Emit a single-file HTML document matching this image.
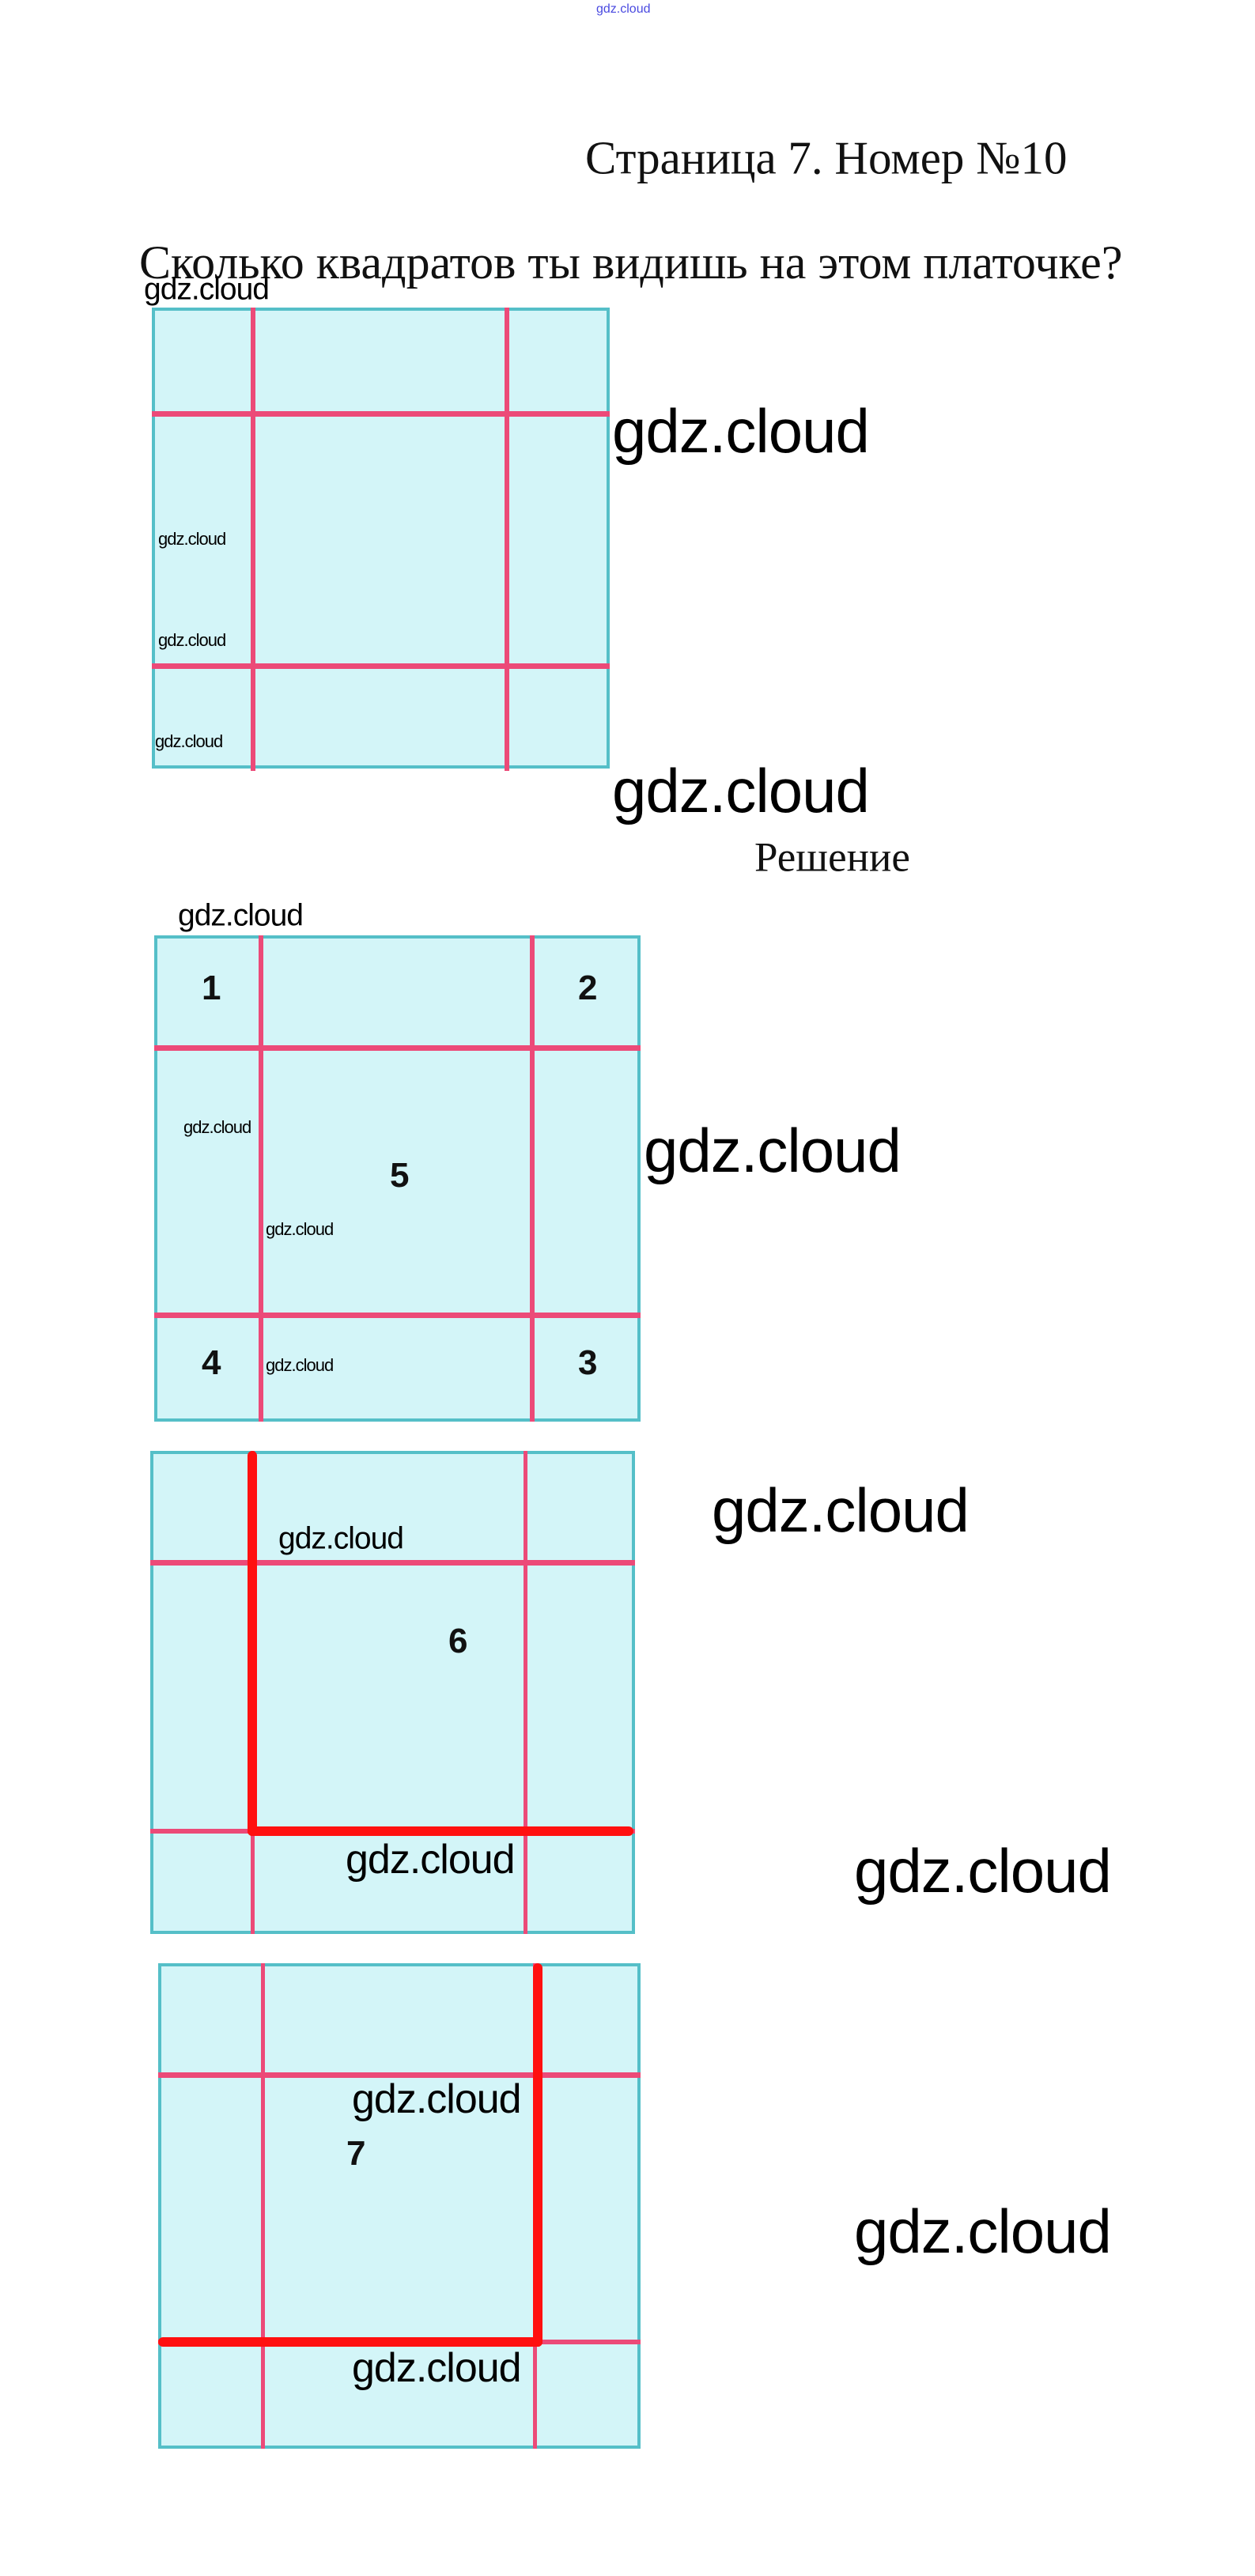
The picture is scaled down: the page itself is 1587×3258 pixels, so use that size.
<!DOCTYPE html>
<html><head><meta charset="utf-8"><style>
body{margin:0;width:1587px;height:3258px;background:#fff;position:relative;overflow:hidden}
.t{position:absolute;line-height:1;white-space:nowrap;transform:translateY(-50%)}
.serif{font-family:"Liberation Serif",serif;color:#111}
.g{font-family:"Liberation Sans",sans-serif;color:#000;letter-spacing:-1px}
.box{position:absolute;background:#d3f5f8;border:4px solid #55bfc8;box-sizing:border-box}
.r{position:absolute;background:#ec4a78}
.R{position:absolute;background:#ff1010;border-radius:6px}
.n{font-family:"Liberation Sans",sans-serif;font-weight:bold;font-size:44px;color:#111}
</style></head><body>
<div class="t" style="left:754px;top:12px;font-size:16px;color:#4a4ae0;font-family:'Liberation Sans',sans-serif">gdz.cloud</div>
<div class="t serif" style="left:740px;top:200px;font-size:59px">Страница 7. Номер №10</div>
<div class="t serif" style="left:176px;top:332px;font-size:60px">Сколько квадратов ты видишь на этом платочке?</div>
<div class="t g" style="left:182px;top:366px;font-size:39px">gdz.cloud</div>

<div class="box" style="left:192px;top:389px;width:579px;height:583px"></div>
<div class="r" style="left:317px;top:389px;width:6px;height:586px"></div>
<div class="r" style="left:638px;top:389px;width:6px;height:586px"></div>
<div class="r" style="left:192px;top:520px;width:579px;height:7px"></div>
<div class="r" style="left:192px;top:839px;width:579px;height:7px"></div>
<div class="t g" style="left:200px;top:682px;font-size:22px">gdz.cloud</div>
<div class="t g" style="left:200px;top:810px;font-size:22px">gdz.cloud</div>
<div class="t g" style="left:196px;top:938px;font-size:22px">gdz.cloud</div>
<div class="t g" style="left:774px;top:545px;font-size:78px">gdz.cloud</div>
<div class="t g" style="left:774px;top:1000px;font-size:78px">gdz.cloud</div>
<div class="t serif" style="left:954px;top:1085px;font-size:53px">Решение</div>

<div class="t g" style="left:225px;top:1158px;font-size:39px">gdz.cloud</div>
<div class="box" style="left:195px;top:1183px;width:615px;height:615px"></div>
<div class="r" style="left:327px;top:1183px;width:6px;height:615px"></div>
<div class="r" style="left:670px;top:1183px;width:6px;height:615px"></div>
<div class="r" style="left:195px;top:1322px;width:615px;height:7px"></div>
<div class="r" style="left:195px;top:1660px;width:615px;height:7px"></div>
<div class="t n" style="left:255px;top:1250px">1</div>
<div class="t n" style="left:731px;top:1250px">2</div>
<div class="t n" style="left:493px;top:1487px">5</div>
<div class="t n" style="left:255px;top:1724px">4</div>
<div class="t n" style="left:731px;top:1724px">3</div>
<div class="t g" style="left:232px;top:1426px;font-size:22px">gdz.cloud</div>
<div class="t g" style="left:336px;top:1555px;font-size:22px">gdz.cloud</div>
<div class="t g" style="left:336px;top:1727px;font-size:22px">gdz.cloud</div>
<div class="t g" style="left:814px;top:1455px;font-size:78px">gdz.cloud</div>

<div class="box" style="left:190px;top:1835px;width:613px;height:611px"></div>
<div class="r" style="left:317px;top:1835px;width:5px;height:611px"></div>
<div class="r" style="left:662px;top:1835px;width:5px;height:611px"></div>
<div class="r" style="left:190px;top:1973px;width:613px;height:7px"></div>
<div class="r" style="left:190px;top:2313px;width:613px;height:6px"></div>
<div class="R" style="left:313px;top:1835px;width:12px;height:487px"></div>
<div class="R" style="left:313px;top:2310px;width:488px;height:12px"></div>
<div class="t n" style="left:567px;top:2076px">6</div>
<div class="t g" style="left:352px;top:1946px;font-size:39px">gdz.cloud</div>
<div class="t g" style="left:437px;top:2352px;font-size:52px">gdz.cloud</div>
<div class="t g" style="left:900px;top:1910px;font-size:78px">gdz.cloud</div>
<div class="t g" style="left:1080px;top:2366px;font-size:78px">gdz.cloud</div>

<div class="box" style="left:200px;top:2483px;width:610px;height:614px"></div>
<div class="r" style="left:330px;top:2483px;width:5px;height:614px"></div>
<div class="r" style="left:674px;top:2483px;width:5px;height:614px"></div>
<div class="r" style="left:200px;top:2621px;width:610px;height:7px"></div>
<div class="r" style="left:200px;top:2959px;width:610px;height:6px"></div>
<div class="R" style="left:674px;top:2483px;width:12px;height:485px"></div>
<div class="R" style="left:200px;top:2956px;width:486px;height:12px"></div>
<div class="t n" style="left:438px;top:2724px">7</div>
<div class="t g" style="left:445px;top:2655px;font-size:52px">gdz.cloud</div>
<div class="t g" style="left:445px;top:2995px;font-size:52px">gdz.cloud</div>
<div class="t g" style="left:1080px;top:2822px;font-size:78px">gdz.cloud</div>
</body></html>
